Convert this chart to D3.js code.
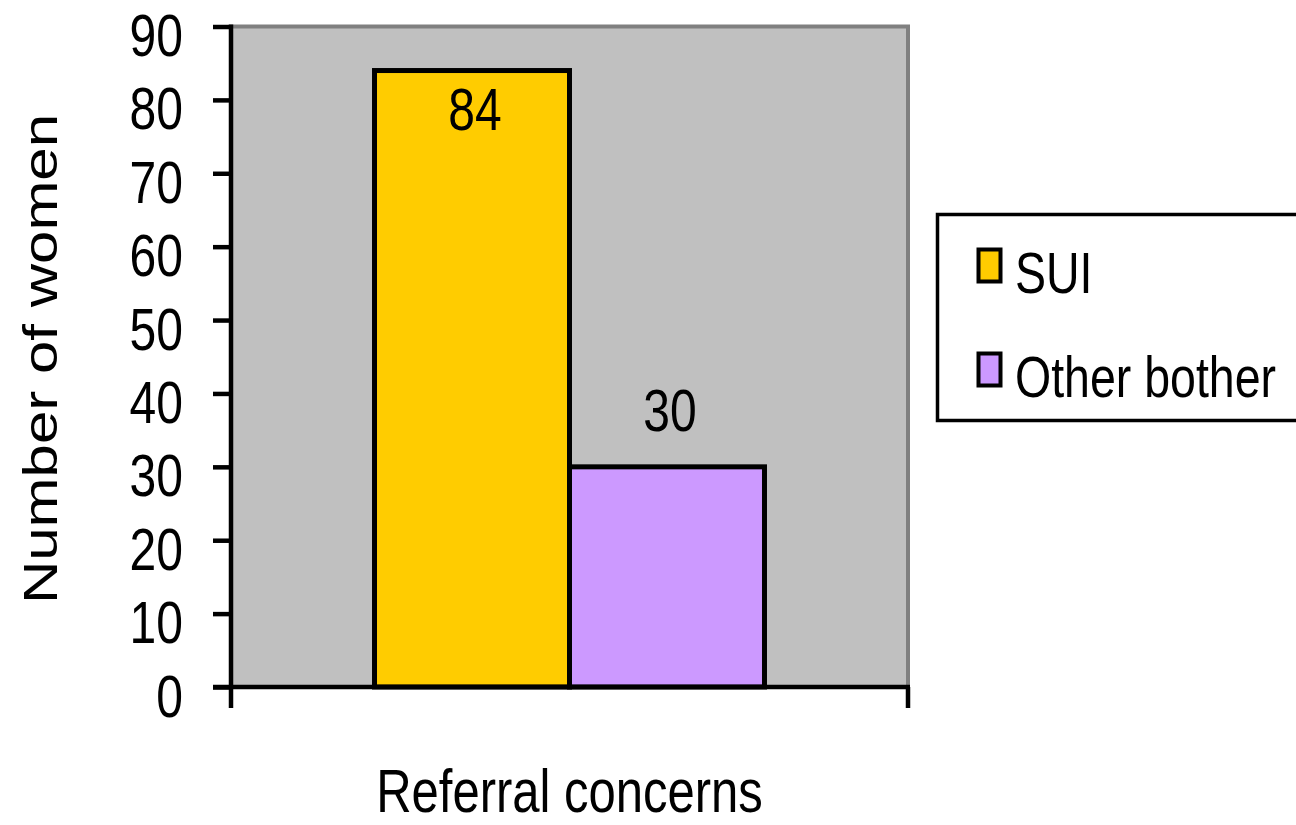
<!DOCTYPE html>
<html>
<head>
<meta charset="utf-8">
<script src="https://cdn.jsdelivr.net/npm/d3@7"></script>
<style>
  html, body { margin: 0; padding: 0; background: #ffffff; }
  svg { display: block; }
  text { font-family: "Liberation Sans", Arial, sans-serif; fill: #000; }
</style>
</head>
<body>
<svg id="chart" width="1296" height="825"></svg>
<script>
// Data
const categories = ["Referral concerns"];
const seriesNames = ["SUI", "Other bother"];
const seriesValues = [84, 30];
const seriesColors = ["#ffcc00", "#cc99ff"];
const yTicks = [0, 10, 20, 30, 40, 50, 60, 70, 80, 90];

const W = 1296, H = 825;
const plot = { left: 231, right: 908, top: 26.5, bottom: 687 };
const stretch = 1.25; // text is drawn taller than wide

const svg = d3.select("#chart");
svg.append("rect").attr("width", W).attr("height", H).attr("fill", "#fff");

const y = d3.scaleLinear().domain([0, 90]).range([plot.bottom, plot.top]);
const x0 = d3.scaleBand().domain(categories).range([plot.left, plot.right])
  .paddingInner(0).paddingOuter(0.368);
const x1 = d3.scaleBand().domain(seriesNames).range([0, x0.bandwidth()]).padding(0);

// Plot area
svg.append("rect")
  .attr("x", plot.left).attr("y", plot.top)
  .attr("width", plot.right - plot.left).attr("height", plot.bottom - plot.top)
  .attr("fill", "#c0c0c0");
// top and right frame
svg.append("path")
  .attr("d", `M${plot.left},${plot.top} H${plot.right} V${plot.bottom}`)
  .attr("fill", "none").attr("stroke", "#808080").attr("stroke-width", 4);

// Bars
const bars = seriesNames.map((s, i) => ({ series: s, value: seriesValues[i], color: seriesColors[i], cat: categories[0] }));
const g = svg.append("g");
g.selectAll("rect.bar").data(bars).enter().append("rect")
  .attr("class", "bar")
  .attr("x", d => x0(d.cat) + x1(d.series))
  .attr("y", d => y(d.value))
  .attr("width", x1.bandwidth())
  .attr("height", d => y(0) - y(d.value))
  .attr("fill", d => d.color)
  .attr("stroke", "#000").attr("stroke-width", 5);

// Value labels: above the bar when there is room, otherwise inside its top
const labelSize = 48;
g.selectAll("text.val").data(bars).enter().append("text")
  .attr("class", "val")
  .attr("text-anchor", "middle")
  .attr("font-size", labelSize)
  .attr("transform", d => {
    const cx = x0(d.cat) + x1(d.series) + x1.bandwidth() / 2 + 3;
    let base = y(d.value) - 36;
    if (base - 0.716 * labelSize * stretch < plot.top) base = y(d.value) + 59;
    return `translate(${cx},${base}) scale(1,${stretch})`;
  })
  .text(d => d.value);

// Y axis
const yAxis = d3.axisLeft(y).tickValues(yTicks).tickSize(18).tickSizeOuter(0).tickFormat(d3.format("d"));
const ya = svg.append("g").attr("transform", `translate(${plot.left},0)`).call(yAxis);
ya.select(".domain").attr("stroke", "#000").attr("stroke-width", 4.5)
  .attr("d", `M0,${plot.top - 2}V${plot.bottom}`);
ya.selectAll(".tick line").attr("stroke", "#000").attr("stroke-width", 4.5);
ya.selectAll(".tick text")
  .attr("x", null).attr("dy", null)
  .attr("text-anchor", "end")
  .attr("font-size", 48)
  .attr("font-family", "Liberation Sans, Arial, sans-serif")
  .attr("fill", "#000")
  .attr("transform", `translate(-48,29) scale(1,${stretch})`);

// X axis line with end ticks
const xa = svg.append("g");
xa.append("line")
  .attr("x1", plot.left - 18).attr("x2", plot.right + 2)
  .attr("y1", plot.bottom).attr("y2", plot.bottom)
  .attr("stroke", "#000").attr("stroke-width", 4.5);
xa.selectAll("line.tk").data(x0.range()).enter().append("line")
  .attr("class", "tk")
  .attr("x1", d => d).attr("x2", d => d)
  .attr("y1", plot.bottom).attr("y2", plot.bottom + 21)
  .attr("stroke", "#000").attr("stroke-width", 4.5);

// Axis titles
svg.append("text")
  .attr("text-anchor", "middle")
  .attr("font-size", 49)
  .attr("transform", `translate(${(plot.left + plot.right) / 2},812) scale(1,${stretch})`)
  .text(categories[0]);

svg.append("text")
  .attr("text-anchor", "middle")
  .attr("font-size", 48)
  .attr("transform", `translate(57,359) scale(1,${stretch}) rotate(-90)`)
  .text("Number of women");

// Legend
const leg = svg.append("g");
leg.append("rect")
  .attr("x", 937.5).attr("y", 214.5).attr("width", 420).attr("height", 206)
  .attr("fill", "#fff").attr("stroke", "#000").attr("stroke-width", 3.5);
const items = leg.selectAll("g.item").data(bars).enter().append("g")
  .attr("class", "item")
  .attr("transform", (d, i) => `translate(0,${i * 104})`);
items.append("rect")
  .attr("x", 978.5).attr("y", 249.5).attr("width", 22).attr("height", 32)
  .attr("fill", d => d.color).attr("stroke", "#000").attr("stroke-width", 4);
items.append("text")
  .attr("font-size", 46.5)
  .attr("transform", `translate(1015,293) scale(1,${stretch})`)
  .text(d => d.series);
</script>
</body>
</html>
